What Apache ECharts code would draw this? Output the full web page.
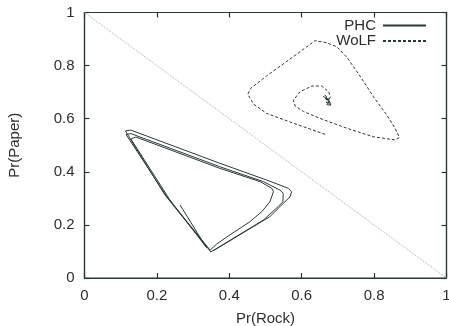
<!DOCTYPE html>
<html>
<head>
<meta charset="utf-8">
<script src="https://cdn.jsdelivr.net/npm/echarts@6/dist/echarts.min.js"></script>
<style>
html, body { margin: 0; padding: 0; background: #fff; }
#main { width: 449px; height: 326px; }
</style>
</head>
<body>
<div id="main"></div>
<script>
// values, [Pr(Rock), Pr(Paper)]
var phcPoints = [
    [0.264, 0.275], [0.332, 0.125], [0.338, 0.113],
    [0.236, 0.294], [0.128, 0.524], [0.142, 0.531],
    [0.374, 0.413], [0.485, 0.363], [0.517, 0.338], [0.522, 0.325],
    [0.512, 0.287], [0.490, 0.250], [0.455, 0.210], [0.410, 0.170],
    [0.365, 0.128], [0.347, 0.105],
    [0.228, 0.305], [0.115, 0.540], [0.128, 0.544],
    [0.374, 0.419], [0.494, 0.363], [0.540, 0.331], [0.549, 0.319],
    [0.548, 0.287], [0.535, 0.269], [0.494, 0.218], [0.349, 0.098],
    [0.222, 0.313], [0.113, 0.554], [0.128, 0.557],
    [0.374, 0.432], [0.503, 0.369], [0.563, 0.338], [0.572, 0.325],
    [0.568, 0.306], [0.549, 0.281], [0.512, 0.231], [0.355, 0.102]
];
var wolfPoints = [
    [0.665, 0.541], [0.577, 0.583], [0.503, 0.620], [0.467, 0.655],
    [0.451, 0.692], [0.459, 0.714], [0.503, 0.761], [0.577, 0.834],
    [0.623, 0.880], [0.637, 0.894], [0.669, 0.886], [0.697, 0.871],
    [0.725, 0.831], [0.761, 0.761], [0.798, 0.683], [0.835, 0.614],
    [0.858, 0.564], [0.870, 0.529], [0.858, 0.520], [0.798, 0.532],
    [0.725, 0.564], [0.651, 0.601], [0.605, 0.627], [0.582, 0.648],
    [0.577, 0.670], [0.596, 0.702], [0.628, 0.723], [0.655, 0.723],
    [0.674, 0.702], [0.680, 0.683], [0.674, 0.670],
    [0.659, 0.685], [0.678, 0.667], [0.667, 0.655], [0.681, 0.648],
    [0.673, 0.678], [0.664, 0.689], [0.675, 0.659], [0.670, 0.670],
    [0.662, 0.680], [0.679, 0.660], [0.668, 0.662], [0.677, 0.652],
    [0.671, 0.674], [0.666, 0.684], [0.676, 0.664], [0.672, 0.668]
];
var diagonal = [[0, 1], [1, 0]];
var seriesNames = ['PHC', 'WoLF'];

var ink = '#2b3838';
var txt = '#2e2e2e';
var fontFamily = 'Liberation Sans, Arial, sans-serif';
var labelFont = { color: txt, fontSize: 15, fontFamily: fontFamily };

// gnuplot style box: line and inward ticks on all four sides
function frameAxis(pos, withLabel) {
    return {
        type: 'value', position: pos, min: 0, max: 1, interval: 0.2,
        axisLine: { show: true, onZero: false, lineStyle: { color: ink, width: 1.2 } },
        axisTick: { show: true, inside: true, length: 5, lineStyle: { color: ink, width: 1.2 } },
        axisLabel: {
            show: true, color: withLabel ? txt : 'transparent',
            fontSize: 15, fontFamily: fontFamily, margin: 10
        },
        splitLine: { show: false }
    };
}

var xBottom = frameAxis('bottom', true);
xBottom.name = 'Pr(Rock)';
xBottom.nameLocation = 'middle';
xBottom.nameGap = 33;
xBottom.nameTextStyle = labelFont;
var yLeft = frameAxis('left', true);
yLeft.name = 'Pr(Paper)';
yLeft.nameLocation = 'middle';
yLeft.nameGap = 62;
yLeft.nameTextStyle = labelFont;

var chart = echarts.init(document.getElementById('main'));
var option = {
    animation: false,
    grid: {
        left: 84.5, right: 2.5, top: 12.5, bottom: 48, outerBoundsMode: 'none',
        show: true, borderColor: ink, borderWidth: 1.2
    },
    legend: {
        data: seriesNames,
        orient: 'vertical',
        right: 17, top: 13,
        align: 'right',
        itemWidth: 43, itemHeight: 10, itemGap: 0.5,
        itemStyle: { color: 'transparent', borderWidth: 0, opacity: 0 },
        textStyle: { color: txt, fontSize: 15, fontFamily: fontFamily, padding: [0, 2, 0, 0] }
    },
    xAxis: [xBottom, frameAxis('top', false)],
    yAxis: [yLeft, frameAxis('right', false)],
    series: [
        {
            name: 'PHC', type: 'line', data: phcPoints, symbol: 'none',
            lineStyle: { color: ink, width: 1 }, itemStyle: { color: ink }
        },
        {
            name: 'WoLF', type: 'line', data: wolfPoints, symbol: 'none',
            lineStyle: { color: ink, width: 1, type: [3, 2] }, itemStyle: { color: ink }
        },
        {
            name: 'diag', type: 'line', data: diagonal, symbol: 'none',
            lineStyle: { color: '#aaa', width: 1, type: [1, 1] }, silent: true
        }
    ]
};
chart.setOption(option);
</script>
</body>
</html>
